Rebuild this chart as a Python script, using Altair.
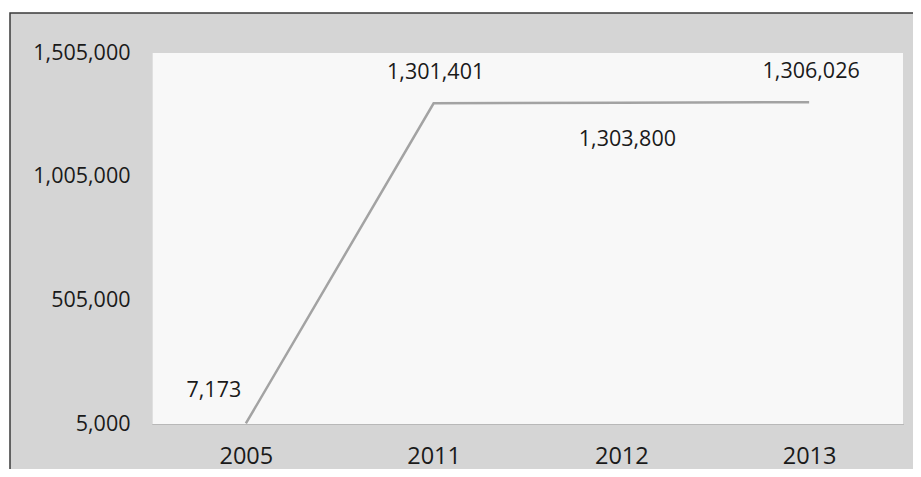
import altair as alt
import pandas as pd

years = ["2005", "2011", "2012", "2013"]
values = [7173, 1301401, 1303800, 1306026]
y_ticks = [5000, 505000, 1005000, 1505000]

W, H = 751, 371
FONT = "Open Sans"

df = pd.DataFrame({"year": years, "value": values})
one = alt.Data(values=[{"k": 1}])

xenc = alt.X("year:N", sort=years, scale=alt.Scale(type="point", padding=0.5),
             axis=alt.Axis(title=None, labelAngle=0, ticks=False, labelPadding=20,
                           labelFontSize=23.5, labelFont=FONT, labelColor="#1a1a1a",
                           domainColor="#9a9a9a", domainDash=[1, 1], domainWidth=1,
                           zindex=2))
yenc = alt.Y("value:Q", scale=alt.Scale(domain=[5000, 1505000], nice=False, zero=False),
             axis=alt.Axis(title=None, values=y_ticks, format=",.0f", ticks=False, grid=False,
                           labelPadding=22, labelFontSize=21.5, labelFont=FONT,
                           labelColor="#1a1a1a", domainColor="#c8c8c8",
                           domainDash=[1, 1], domainWidth=1, zindex=2))

bg = alt.Chart(one).mark_rect(fill="#d5d5d5", stroke="#3a3a3a", strokeWidth=1.5).encode(
    x=alt.value(-142), x2=alt.value(W + 40), y=alt.value(-40), y2=alt.value(H + 80))
plotbg = alt.Chart(one).mark_rect(fill="#f8f8f8").encode(
    x=alt.value(0), x2=alt.value(W), y=alt.value(0), y2=alt.value(H))

base = alt.Chart(df)
line = base.mark_line(color="#a3a3a3", strokeWidth=2.5).encode(x=xenc, y=yenc)

def lab(year, dx, dy):
    return base.transform_filter(alt.datum.year == year).mark_text(
        font=FONT, fontSize=21.5, color="#1a1a1a", dx=dx, dy=dy
    ).encode(x=xenc, y=yenc, text=alt.Text("value:Q", format=",.0f"))

chart = alt.layer(
    bg, plotbg, line,
    lab("2005", -32, -32), lab("2011", 2, -30), lab("2012", 6, 37), lab("2013", 2, -30),
).properties(
    width=W, height=H,
    autosize=alt.AutoSizeParams(type="none"),
    padding={"left": 144, "top": 45, "right": 10, "bottom": 45},
    background="white",
).configure_view(stroke=None)

chart.save("out.html", embed_options={"renderer": "svg", "actions": False})
